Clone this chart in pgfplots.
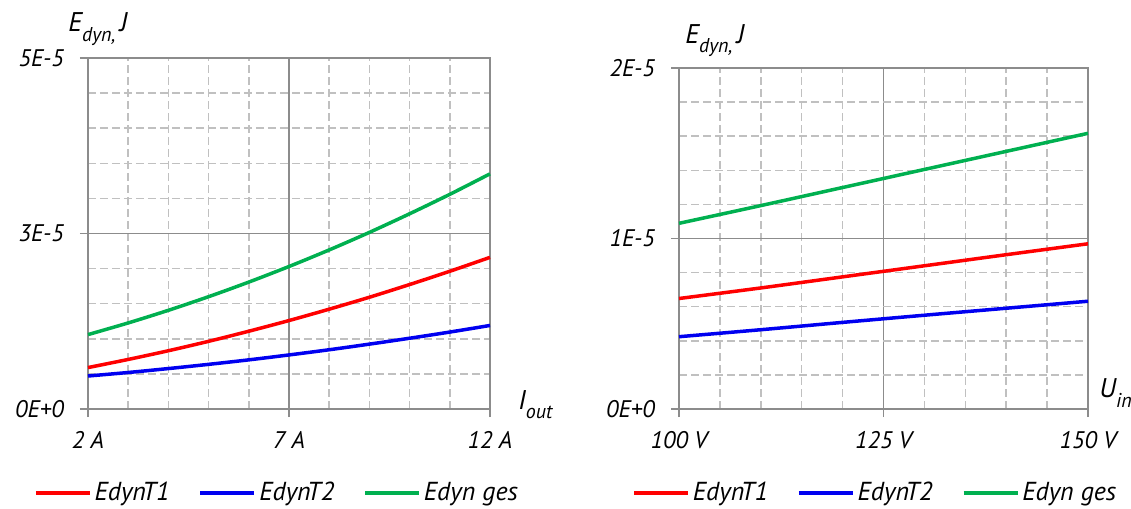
\documentclass[border=0pt]{standalone}
\usepackage{fontspec}
\setmainfont{PT Sans}
\usepackage{pgfplots}
\pgfplotsset{compat=1.18}
\definecolor{cred}{HTML}{FF0000}
\definecolor{cblue}{HTML}{0000F0}
\definecolor{cgreen}{HTML}{00B050}
\definecolor{majgrid}{HTML}{8C8C8C}
\definecolor{mingrid}{HTML}{C0C0C0}
\pgfplotsset{
  mystyle/.style={
    scale only axis,
    clip=false,
    axis line style={majgrid, line width=0.75pt},
    grid=both,
    major grid style={majgrid, line width=0.75pt},
    minor grid style={mingrid, line width=0.75pt, dash pattern=on 4pt off 2pt},
    minor tick num=4,
    tick style={majgrid, line width=0.75pt},
    major tick length=4pt,
    minor tick length=0pt,
    tick align=outside,
    xtick pos=bottom,
    ytick pos=left,
    tick label style={font=\fontsize{12}{14}\selectfont\itshape},
    xticklabel style={yshift=-3.5pt},
    yticklabel style={xshift=-4.5pt},
    every axis plot/.append style={line width=1.75pt, smooth},
    legend image code/.code={\draw[#1, line width=2.3pt, sharp plot] (0pt,0pt) -- (27pt,0pt);},
    legend style={font=\fontsize{13}{15}\selectfont\itshape, draw=none, fill=none,
      legend columns=3, anchor=center, yshift=-42pt,
      nodes={inner sep=1.25pt},
      /tikz/every odd column/.append style={column sep=0pt},
      /tikz/every even column/.append style={column sep=13pt}},
  }
}
\begin{document}
\begin{tikzpicture}
\useasboundingbox (-44pt,-50pt) rectangle (521.5pt,204.5pt);
\begin{axis}[mystyle,
  at={(0pt,0pt)}, anchor=south west,
  width=201pt, height=175.5pt,
  xmin=2, xmax=12, ymin=0, ymax=5,
  xtick={2,7,12}, xticklabels={2 A,7 A,12 A},
  ytick={0,2.5,5}, yticklabels={0E+0,3E-5,5E-5},
  legend style={at={(0.47,0)}},
]
\addplot[cred] coordinates {(2,0.590) (3,0.706) (4,0.830) (5,0.964) (6,1.108) (7,1.260) (8,1.422) (9,1.592) (10,1.773) (11,1.962) (12,2.160)};
\addlegendentry{EdynT1}
\addplot[cblue] coordinates {(2,0.470) (3,0.520) (4,0.576) (5,0.636) (6,0.700) (7,0.770) (8,0.844) (9,0.924) (10,1.008) (11,1.096) (12,1.190)};
\addlegendentry{EdynT2}
\addplot[cgreen] coordinates {(2,1.060) (3,1.226) (4,1.406) (5,1.600) (6,1.808) (7,2.030) (8,2.266) (9,2.516) (10,2.781) (11,3.058) (12,3.350)};
\addlegendentry{Edyn ges}
\node[anchor=base west, inner sep=0pt] at (rel axis cs:0,1) [xshift=-10pt, yshift=13pt]
  {\fontsize{13.5}{15}\selectfont\itshape E\raisebox{-0.35em}{\fontsize{10}{11}\selectfont dyn,}\,J};
\node[anchor=base west, inner sep=0pt] at (rel axis cs:1,0) [xshift=14pt, yshift=0pt]
  {\fontsize{13.5}{15}\selectfont\itshape I\raisebox{-0.35em}{\fontsize{10}{11}\selectfont out}};
\end{axis}
\begin{axis}[mystyle,
  at={(295.5pt,0pt)}, anchor=south west,
  width=204.5pt, height=170.5pt,
  xmin=100, xmax=150, ymin=0, ymax=2,
  xtick={100,125,150}, xticklabels={100 V,125 V,150 V},
  ytick={0,1,2}, yticklabels={0E+0,1E-5,2E-5},
  legend style={at={(0.48,0)}},
]
\addplot[cred] coordinates {(100,0.648) (110,0.710) (120,0.775) (130,0.840) (140,0.905) (150,0.969)};
\addlegendentry{EdynT1}
\addplot[cblue] coordinates {(100,0.424) (110,0.465) (120,0.508) (130,0.550) (140,0.591) (150,0.632)};
\addlegendentry{EdynT2}
\addplot[cgreen] coordinates {(100,1.089) (110,1.193) (120,1.299) (130,1.405) (140,1.511) (150,1.617)};
\addlegendentry{Edyn ges}
\node[anchor=base west, inner sep=0pt] at (rel axis cs:0,1) [xshift=3pt, yshift=12.5pt]
  {\fontsize{13.5}{15}\selectfont\itshape E\raisebox{-0.35em}{\fontsize{10}{11}\selectfont dyn,}\,J};
\node[anchor=base west, inner sep=0pt] at (rel axis cs:1,0) [xshift=5.5pt, yshift=5.5pt]
  {\fontsize{13.5}{15}\selectfont\itshape U\raisebox{-0.35em}{\fontsize{10}{11}\selectfont in}};
\end{axis}
\end{tikzpicture}
\end{document}
